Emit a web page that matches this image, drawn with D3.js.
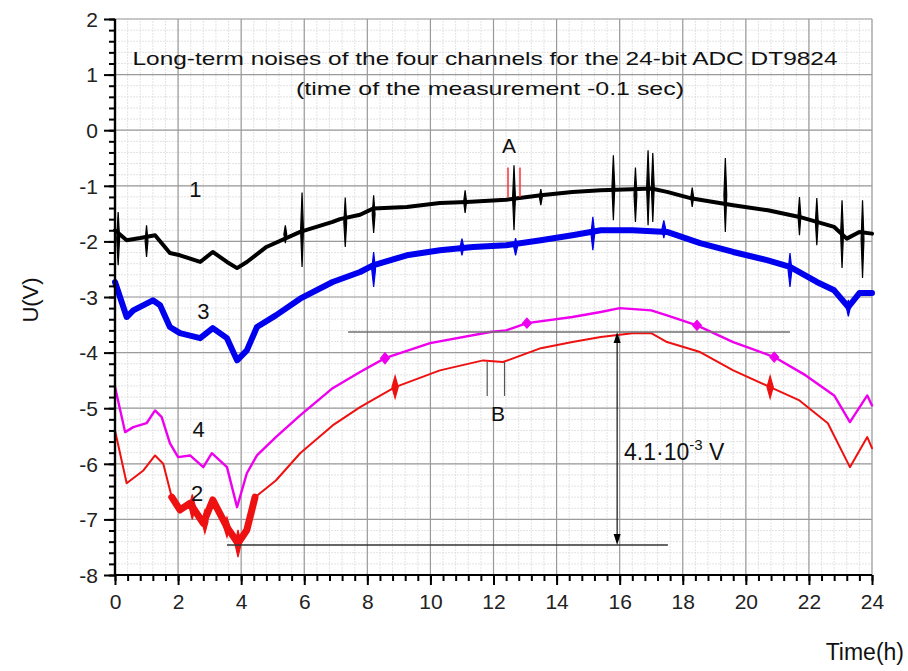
<!DOCTYPE html>
<html><head><meta charset="utf-8">
<script src="https://cdn.jsdelivr.net/npm/d3@7/dist/d3.min.js"></script>
<style>body{margin:0;background:#fff}svg{display:block;font-family:"Liberation Sans",Arial,sans-serif}</style>
</head><body><svg id="c" width="908" height="671"></svg>
<script>
// ---------- data ----------
const xTicks = [0,2,4,6,8,10,12,14,16,18,20,22,24];
const yTicks = [2,1,0,-1,-2,-3,-4,-5,-6,-7,-8];
const titleLines = ["Long-term noises of the four channels for the 24-bit ADC DT9824","(time of the measurement -0.1 sec)"];

// channel 1 (black)
const ch1T = [0,0.37,0.8,1.27,1.74,2.06,2.7,3.1,3.55,3.87,4.18,4.8,5.87,6.9,7.13,7.77,8.18,9.25,10.3,11.15,12.4,13.5,14.5,15.4,16.4,17.0,17.5,18.3,19.6,20.7,21.7,22.8,23.2,23.6,24];
const ch1V = [-1.80,-1.98,-1.94,-1.89,-2.21,-2.25,-2.37,-2.19,-2.37,-2.48,-2.37,-2.10,-1.83,-1.65,-1.60,-1.52,-1.41,-1.38,-1.31,-1.29,-1.25,-1.17,-1.11,-1.08,-1.06,-1.05,-1.11,-1.23,-1.35,-1.44,-1.56,-1.74,-1.95,-1.83,-1.86];
// bursts: [time, low, high]
const ch1Bursts = [[0.1,-2.43,-1.47],[1.0,-2.28,-1.71],[5.4,-2.03,-1.71],[5.93,-2.46,-1.12],[7.3,-2.10,-1.21],[8.2,-1.85,-1.17],[11.1,-1.49,-1.08],[12.65,-1.80,-0.63],[13.5,-1.35,-1.06],[15.8,-1.62,-0.45],[16.5,-1.65,-0.67],[16.9,-1.71,-0.36],[17.05,-1.65,-0.41],[18.3,-1.38,-1.03],[19.35,-1.83,-0.50],[21.7,-1.89,-1.20],[22.25,-2.07,-1.22],[23.05,-2.48,-1.26],[23.7,-2.66,-1.26]];

// channel 3 (blue)
const ch3T = [0,0.37,0.58,1.2,1.43,1.74,2.06,2.7,3.1,3.55,3.87,4.18,4.5,5.1,5.87,6.9,7.77,8.18,9.25,10.3,11.35,12.4,13.5,14.5,15.4,16.4,17.5,18.55,19.6,20.7,21.4,22.25,22.8,23.25,23.6,24];
const ch3V = [-2.73,-3.36,-3.24,-3.06,-3.15,-3.54,-3.65,-3.74,-3.56,-3.74,-4.14,-3.96,-3.54,-3.33,-3.03,-2.73,-2.55,-2.43,-2.25,-2.16,-2.10,-2.07,-1.98,-1.89,-1.80,-1.80,-1.83,-2.03,-2.19,-2.34,-2.46,-2.73,-2.88,-3.18,-2.93,-2.93];
const ch3Bursts = [[8.2,-2.82,-2.19],[11.0,-2.25,-1.95],[12.7,-2.25,-1.94],[15.15,-2.16,-1.56],[17.4,-1.94,-1.62],[21.4,-2.82,-2.21],[23.25,-3.35,-3.05]];

// channel 4 (magenta)
const ch4T = [0,0.32,0.58,1.0,1.27,1.48,1.74,2.0,2.38,2.8,3.07,3.55,3.87,4.18,4.5,5.1,5.87,6.9,7.77,8.56,9.99,11.9,12.4,13.06,14.5,15.4,16.0,17.0,17.5,18.45,19.6,20.9,21.9,22.8,23.3,23.85,24];
const ch4V = [-4.62,-5.43,-5.34,-5.27,-5.04,-5.16,-5.63,-5.88,-5.85,-6.06,-5.81,-6.06,-6.78,-6.17,-5.85,-5.52,-5.13,-4.64,-4.35,-4.10,-3.83,-3.63,-3.60,-3.47,-3.36,-3.27,-3.20,-3.24,-3.33,-3.51,-3.81,-4.08,-4.41,-4.77,-5.25,-4.77,-4.95];
const ch4Bursts = [[8.56,-4.20,-4.00],[13.06,-3.56,-3.38],[18.45,-3.60,-3.42],[20.9,-4.17,-3.99]];

// channel 2 (red)
const ch2T = [0,0.37,0.9,1.27,1.53,1.8,2.06,2.38,2.8,3.1,3.55,3.9,4.18,4.44,5.1,5.87,6.9,7.77,8.88,10.3,11.67,12.3,13.5,14.5,15.4,16.4,17.0,17.5,18.55,19.6,20.77,21.7,22.6,23.3,23.85,24];
const ch2V = [-5.40,-6.35,-6.12,-5.85,-6.00,-6.60,-6.83,-6.71,-7.07,-6.65,-7.14,-7.43,-7.19,-6.60,-6.30,-5.81,-5.31,-4.98,-4.62,-4.32,-4.14,-4.17,-3.92,-3.81,-3.72,-3.65,-3.65,-3.81,-3.99,-4.32,-4.62,-4.86,-5.27,-6.06,-5.52,-5.72];
const ch2Bursts = [[2.45,-7.0,-6.55],[2.85,-7.25,-6.83],[3.55,-7.32,-6.96],[3.9,-7.68,-7.19],[8.88,-4.82,-4.42],[20.77,-4.82,-4.42]];
const ch2NoisyRange = [1.7,4.6];   // thick noisy stretch of channel 2

// annotations
const aMarkT = [12.46,12.84];           // red marks at A
const aMarkV = [-1.2,-0.67];
const bMarkT = [11.8,12.35];            // B markers
const bMarkV = [-4.17,-4.78];
const topLine = {t0:7.39,t1:21.4,v:-3.63};
const botLine = {t0:3.55,t1:17.53,v:-7.46};
const arrowT = 15.92;
const chanLabels = [{n:"1",t:2.55,v:-1.05},{n:"3",t:2.8,v:-3.25},{n:"4",t:2.65,v:-5.37},{n:"2",t:2.6,v:-6.53}];

// ---------- drawing ----------
const svg = d3.select("#c");
const X0=115, X1=872, Y0=575, Y1=19;
const x = d3.scaleLinear().domain([0,24]).range([X0,X1]);
const y = d3.scaleLinear().domain([-8,2]).range([Y0,Y1]);

// minor grid
const g = svg.append("g");
g.selectAll(".mx").data(d3.range(0,24.001,0.4)).join("line")
  .attr("x1",d=>x(d)).attr("x2",d=>x(d)).attr("y1",Y0).attr("y2",Y1)
  .attr("stroke","#dcdcdc").attr("stroke-width",0.8).attr("stroke-dasharray","2,1");
g.selectAll(".my").data(d3.range(-8,2.001,0.2)).join("line")
  .attr("y1",d=>y(d)).attr("y2",d=>y(d)).attr("x1",X0).attr("x2",X1)
  .attr("stroke","#dcdcdc").attr("stroke-width",0.8).attr("stroke-dasharray","2,1");
// major grid
g.selectAll(".Mx").data(xTicks).join("line")
  .attr("x1",d=>x(d)).attr("x2",d=>x(d)).attr("y1",Y0).attr("y2",Y1)
  .attr("stroke","#9a9a9a").attr("stroke-width",1.2);
g.selectAll(".My").data(yTicks).join("line")
  .attr("y1",d=>y(d)).attr("y2",d=>y(d)).attr("x1",X0).attr("x2",X1)
  .attr("stroke","#9a9a9a").attr("stroke-width",1.2);

// title
svg.append("text").attr("x",485).attr("y",65).attr("text-anchor","middle")
  .attr("font-size",19).attr("textLength",705).attr("lengthAdjust","spacingAndGlyphs").attr("fill","#111").text(titleLines[0]);
svg.append("text").attr("x",490).attr("y",95).attr("text-anchor","middle")
  .attr("font-size",19).attr("textLength",388).attr("lengthAdjust","spacingAndGlyphs").attr("fill","#111").text(titleLines[1]);

// series
const series = [
  {T:ch1T,V:ch1V,B:ch1Bursts,c:"#000000",w:4,bw:0.045},
  {T:ch3T,V:ch3V,B:ch3Bursts,c:"#0000ee",w:6,bw:0.06},
  {T:ch4T,V:ch4V,B:ch4Bursts,c:"#ee00ee",w:2.4,bw:0.14},
  {T:ch2T,V:ch2V,B:ch2Bursts,c:"#ee1111",w:2,bw:0.1}
];
const line = d3.line().x(d=>x(d[0])).y(d=>y(d[1])).curve(d3.curveLinear);
series.forEach((s,k)=>{
  const pts = s.T.map((t,i)=>[t,s.V[i]]);
  svg.append("path").attr("d",line(pts)).attr("fill","none").attr("stroke",s.c)
    .attr("stroke-width",s.w).attr("stroke-linejoin","round").attr("stroke-linecap","round");
  if(k===3){
    const noisy = pts.filter(p=>p[0]>=ch2NoisyRange[0]&&p[0]<=ch2NoisyRange[1]);
    svg.append("path").attr("d",line(noisy)).attr("fill","none").attr("stroke",s.c)
      .attr("stroke-width",7).attr("stroke-linejoin","round").attr("stroke-linecap","round");
  }
  svg.append("g").selectAll("path").data(s.B).join("path")
    .attr("d",b=>{const m=(b[1]+b[2])/2;return `M${x(b[0]-s.bw)},${y(m)}L${x(b[0])},${y(b[2])}L${x(b[0]+s.bw)},${y(m)}L${x(b[0])},${y(b[1])}Z`;})
    .attr("fill",s.c).attr("stroke",s.c).attr("stroke-width",1.2);
});
// A red marks
svg.append("g").selectAll("line").data(aMarkT).join("line")
  .attr("x1",d=>x(d)).attr("x2",d=>x(d)).attr("y1",y(aMarkV[0])).attr("y2",y(aMarkV[1]))
  .attr("stroke","#ff3030").attr("stroke-width",1.5);

// annotation lines
svg.append("line").attr("x1",x(topLine.t0)).attr("x2",x(topLine.t1)).attr("y1",y(topLine.v)).attr("y2",y(topLine.v)).attr("stroke","#707070").attr("stroke-width",1.6);
svg.append("line").attr("x1",x(botLine.t0)).attr("x2",x(botLine.t1)).attr("y1",y(botLine.v)).attr("y2",y(botLine.v)).attr("stroke","#333").attr("stroke-width",1.3);
svg.append("g").selectAll("line").data(bMarkT).join("line")
  .attr("x1",d=>x(d)).attr("x2",d=>x(d)).attr("y1",y(bMarkV[0])).attr("y2",y(bMarkV[1]))
  .attr("stroke","#555").attr("stroke-width",1.2);
const ax = x(arrowT), ayT=y(topLine.v), ayB=y(botLine.v);
svg.append("line").attr("x1",ax).attr("x2",ax).attr("y1",ayT+8).attr("y2",ayB-8).attr("stroke","#222").attr("stroke-width",1.3);
svg.append("path").attr("d",`M${ax},${ayT}L${ax-3.5},${ayT+11}L${ax+3.5},${ayT+11}Z`).attr("fill","#000");
svg.append("path").attr("d",`M${ax},${ayB}L${ax-3.5},${ayB-11}L${ax+3.5},${ayB-11}Z`).attr("fill","#000");

// text annotations
svg.append("text").attr("x",509).attr("y",153).attr("text-anchor","middle").attr("font-size",21).attr("fill","#111").text("A");
svg.append("text").attr("x",498).attr("y",421).attr("text-anchor","middle").attr("font-size",21).attr("fill","#111").text("B");
const vt = svg.append("text").attr("x",624).attr("y",460).attr("font-size",23).attr("fill","#111");
vt.append("tspan").text("4.1·10");
vt.append("tspan").attr("dy",-10).attr("font-size",15).text("-3");
vt.append("tspan").attr("dy",10).attr("font-size",23).text(" V");
svg.append("g").selectAll("text").data(chanLabels).join("text")
  .attr("x",d=>x(d.t)).attr("y",d=>y(d.v)+8).attr("text-anchor","middle").attr("font-size",22).attr("fill","#111").text(d=>d.n);

// axes
const fmt = d=>String(d);
const yAxisMinor = svg.append("g").attr("transform",`translate(${X0},0)`)
  .call(d3.axisLeft(y).tickValues(d3.range(-8,2.001,0.2)).tickSize(6).tickFormat(""));
const yAxis = svg.append("g").attr("transform",`translate(${X0},0)`)
  .call(d3.axisLeft(y).tickValues(yTicks).tickSize(11).tickPadding(6).tickFormat(fmt));
const xAxisMinor = svg.append("g").attr("transform",`translate(0,${Y0})`)
  .call(d3.axisBottom(x).tickValues(d3.range(0,24.001,0.4)).tickSize(6).tickFormat(""));
const xAxis = svg.append("g").attr("transform",`translate(0,${Y0})`)
  .call(d3.axisBottom(x).tickValues(xTicks).tickSize(10).tickPadding(9).tickFormat(fmt));
[yAxisMinor,yAxis,xAxisMinor,xAxis].forEach(a=>{
  a.select(".domain").attr("stroke","#000").attr("stroke-width",2.2);
  a.selectAll(".tick line").attr("stroke","#000").attr("stroke-width",2);
  a.selectAll("text").attr("font-size",21).attr("fill","#222").attr("font-family","Liberation Sans, Arial, sans-serif");
});
xAxisMinor.select(".domain").attr("d",`M${X0},0H${X1}`);
xAxis.select(".domain").attr("d",`M${X0},0H${X1}`);
yAxisMinor.select(".domain").attr("d",`M0,${Y0}V${Y1}`);
yAxis.select(".domain").attr("d",`M0,${Y0}V${Y1}`);
yAxis.selectAll("text").attr("dy","0.35em");

svg.append("text").attr("transform","translate(38,300) rotate(-90)").attr("text-anchor","middle").attr("font-size",22).attr("fill","#111").text("U(V)");
svg.append("text").attr("x",904).attr("y",660).attr("text-anchor","end").attr("font-size",23).attr("fill","#111").text("Time(h)");
</script></body></html>
